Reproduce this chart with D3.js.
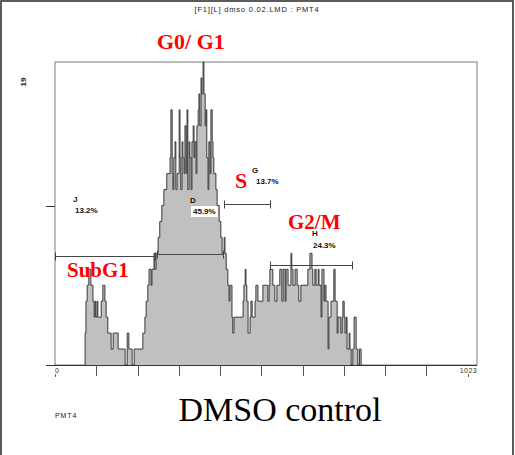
<!DOCTYPE html>
<html>
<head>
<meta charset="utf-8">
<script src="https://cdn.jsdelivr.net/npm/d3@7"></script>
<style>
  html, body { margin: 0; padding: 0; background: #fff; }
  svg { display: block; }
</style>
</head>
<body>
<svg id="chart" width="515" height="455"></svg>
<script>
// DNA content histogram (PMT4), step starts in channel units and event counts
const channels = [73, 75, 78, 82, 87, 92, 95, 97, 99, 102, 104, 112, 116, 121, 124, 128, 136, 141, 153, 170,
  175, 179, 187, 192, 213, 218, 221, 225, 228, 233, 235, 240, 242, 245, 247, 250, 254, 259, 264, 271,
  279, 281, 284, 286, 288, 291, 293, 296, 301, 303, 305, 308, 310, 313, 315, 318, 320, 322, 325, 327,
  330, 332, 335, 337, 339, 342, 344, 347, 349, 351, 354, 356, 359, 361, 364, 366, 368, 371, 373, 376,
  378, 381, 383, 385, 390, 393, 398, 402, 405, 410, 412, 415, 419, 422, 424, 429, 431, 434, 456, 458,
  461, 463, 465, 468, 473, 475, 478, 485, 487, 492, 504, 516, 519, 521, 528, 533, 538, 545, 550, 553,
  558, 560, 565, 572, 574, 577, 582, 587, 591, 596, 613, 618, 623, 625, 630, 633, 638, 640, 645, 647,
  652, 654, 657, 662, 664, 669, 676, 679, 684, 686, 693, 696, 698, 701, 703, 706, 708, 713, 715, 718,
  722, 725, 730, 734, 738, 742];
const counts = [2, 4, 5, 6, 5, 4, 3, 4, 3, 4, 3, 4, 5, 4, 3, 2, 1, 2, 1, 0,
  2, 1, 0, 1, 2, 3, 4, 5, 6, 5, 6, 7, 6, 7, 7, 8, 9, 10, 11, 12,
  13, 16, 12, 11, 13, 14, 11, 12, 16, 13, 11, 14, 13, 12, 15, 12, 16, 11, 14, 13,
  11, 14, 15, 13, 14, 12, 15, 16, 17, 15, 18, 17, 19, 17, 15, 16, 13, 11, 14, 12,
  16, 14, 13, 12, 11, 10, 9, 8, 7, 8, 7, 6, 5, 4, 5, 3, 2, 3, 4, 5,
  6, 5, 4, 2, 3, 4, 3, 4, 5, 4, 5, 4, 5, 6, 5, 4, 5, 6, 4, 6,
  4, 6, 5, 7, 6, 5, 6, 5, 4, 5, 6, 7, 6, 5, 6, 5, 6, 5, 3, 6,
  4, 5, 4, 1, 3, 4, 6, 4, 2, 3, 2, 3, 4, 3, 2, 3, 1, 2, 1, 0,
  1, 3, 1, 0, 1, 0];

// Gated regions
const gateNames = ["J", "D", "G", "H"];
const gateLo = [0, 247, 410, 521];
const gateHi = [242, 407, 521, 720];
const gatePct = ["13.2%", "45.9%", "13.7%", "24.3%"];

// Cell-cycle phase names
const phaseNames = ["SubG1", "G0/ G1", "S", "G2/M"];

// Axis settings
const xMax = 1023;
const yMax = 19;
const xTicks = [100, 200, 300, 400, 500, 600, 700, 800, 900];
const xEndLabels = ["0", "1023"];
const yTicks = [0, 10];

const titleText = "[F1][L] dmso 0.02.LMD : PMT4";
const paramText = "PMT4";
const sampleText = "DMSO control";

// ---- layout ----
const svg = d3.select("#chart");
const plot = { left: 55, right: 477, top: 62, bottom: 365 };

const x = d3.scaleLinear().domain([0, xMax]).range([plot.left, plot.right]);
const y = d3.scaleLinear().domain([0, yMax]).range([plot.bottom, plot.top]);

// outer frame
svg.append("rect")
  .attr("x", 1).attr("y", 1).attr("width", 512).attr("height", 470)
  .attr("fill", "none").attr("stroke", "#333").attr("stroke-width", 1.6);

// title
svg.append("text")
  .attr("x", 257).attr("y", 12)
  .attr("text-anchor", "middle")
  .attr("font-family", "Liberation Sans, Arial, sans-serif")
  .attr("font-size", 7.5).attr("letter-spacing", 0.8)
  .attr("fill", "#222")
  .text(titleText);

// plot frame
svg.append("rect")
  .attr("x", plot.left).attr("y", plot.top)
  .attr("width", plot.right - plot.left).attr("height", plot.bottom - plot.top)
  .attr("fill", "none").attr("stroke", "#7a7a7a").attr("stroke-width", 1);

// histogram
const pts = channels.map((c, i) => [c, counts[i]]);
pts.unshift([channels[0], 0]);

const area = d3.area()
  .x(d => x(d[0])).y0(y(0)).y1(d => y(d[1]))
  .curve(d3.curveStepAfter);
const line = d3.line()
  .x(d => x(d[0])).y(d => y(d[1]))
  .curve(d3.curveStepAfter);

svg.append("path").datum(pts)
  .attr("d", area).attr("fill", "#c0c0c0").attr("stroke", "none");
svg.append("path").datum(pts)
  .attr("d", line).attr("fill", "none")
  .attr("stroke", "#383838").attr("stroke-width", 1);

// x axis baseline
svg.append("line")
  .attr("x1", plot.left - 8).attr("x2", plot.right)
  .attr("y1", plot.bottom + 0.5).attr("y2", plot.bottom + 0.5)
  .attr("stroke", "#333").attr("stroke-width", 1);

// x ticks
svg.selectAll(".xt").data(xTicks).enter().append("line")
  .attr("x1", d => Math.round(x(d)) + 0.5).attr("x2", d => Math.round(x(d)) + 0.5)
  .attr("y1", plot.bottom).attr("y2", plot.bottom + 11)
  .attr("stroke", "#555").attr("stroke-width", 1);

// end labels with small marks
const endVals = [0, xMax];
svg.selectAll(".xl").data(xEndLabels).enter().append("text")
  .attr("x", (d, i) => i === 0 ? plot.left : plot.right)
  .attr("y", 373)
  .attr("text-anchor", (d, i) => i === 0 ? "start" : "end")
  .attr("font-family", "Liberation Sans, Arial, sans-serif")
  .attr("font-size", 7).attr("letter-spacing", 0.4)
  .attr("fill", "#333")
  .text(d => d);
svg.selectAll(".xm").data(endVals).enter().append("line")
  .attr("x1", (d, i) => i === 0 ? 55.5 : 468.5).attr("x2", (d, i) => i === 0 ? 55.5 : 468.5)
  .attr("y1", 374).attr("y2", 377)
  .attr("stroke", "#666").attr("stroke-width", 1);

// y ticks
svg.selectAll(".yt").data(yTicks).enter().append("line")
  .attr("x1", plot.left - 9).attr("x2", plot.left)
  .attr("y1", d => Math.round(y(d)) + 0.5).attr("y2", d => Math.round(y(d)) + 0.5)
  .attr("stroke", "#333").attr("stroke-width", 1);

// y max label
svg.append("text")
  .attr("transform", `translate(26,82) rotate(-90)`)
  .attr("text-anchor", "middle")
  .attr("font-family", "Liberation Sans, Arial, sans-serif")
  .attr("font-size", 8).attr("font-weight", "bold")
  .attr("fill", "#222")
  .text(yMax);

// gate bars (heights in count units)
const gateLevel = [6.83, 6.96, 10.1, 6.27];
const gateG = svg.append("g").attr("stroke", "#444").attr("stroke-width", 1);
gateNames.forEach((g, i) => {
  const gy = Math.round(y(gateLevel[i])) + 0.5;
  const x1 = Math.round(x(gateLo[i])) + 0.5, x2 = Math.round(x(gateHi[i])) + 0.5;
  gateG.append("line").attr("x1", x1).attr("x2", x2).attr("y1", gy).attr("y2", gy);
  [x1, x2].forEach(xx => {
    gateG.append("line").attr("x1", xx).attr("x2", xx).attr("y1", gy - 4).attr("y2", gy + 4);
  });
});

// gate labels
const gateLetterPos = [[73, 202], [190, 203], [252, 173], [312, 236]];
const gatePctPos = [[75, 213], [193, 214], [256, 184], [313, 248]];
const small = g => g
  .attr("font-family", "Liberation Sans, Arial, sans-serif")
  .attr("font-size", 8).attr("font-weight", "bold").attr("fill", "#111");

gateNames.forEach((g, i) => {
  svg.append("text").attr("x", gateLetterPos[i][0]).attr("y", gateLetterPos[i][1])
    .call(small).text(g);
  const t = svg.append("text").attr("x", gatePctPos[i][0]).attr("y", gatePctPos[i][1])
    .call(small).text(gatePct[i]);
  if (g === "D") {
    const bb = t.node().getBBox();
    svg.insert("rect", () => t.node())
      .attr("x", bb.x - 2).attr("y", bb.y - 1)
      .attr("width", bb.width + 4).attr("height", bb.height + 2)
      .attr("fill", "#fff");
  }
});

// phase labels
const phasePos = [[67, 277, 21], [157, 49, 22], [235, 188, 22], [288, 229, 21]];
phaseNames.forEach((p, i) => {
  svg.append("text")
    .attr("x", phasePos[i][0]).attr("y", phasePos[i][1])
    .attr("font-family", "Liberation Serif, Times New Roman, serif")
    .attr("font-weight", "bold").attr("font-size", phasePos[i][2])
    .attr("fill", "#ff0000")
    .text(p);
});

// parameter name and sample name
svg.append("text")
  .attr("x", 55).attr("y", 418)
  .attr("font-family", "Liberation Sans, Arial, sans-serif")
  .attr("font-size", 7).attr("letter-spacing", 0.9)
  .attr("fill", "#222")
  .text(paramText);

svg.append("text")
  .attr("x", 280).attr("y", 421)
  .attr("text-anchor", "middle")
  .attr("font-family", "Liberation Serif, Times New Roman, serif")
  .attr("font-size", 34)
  .attr("fill", "#000")
  .text(sampleText);
</script>
</body>
</html>
